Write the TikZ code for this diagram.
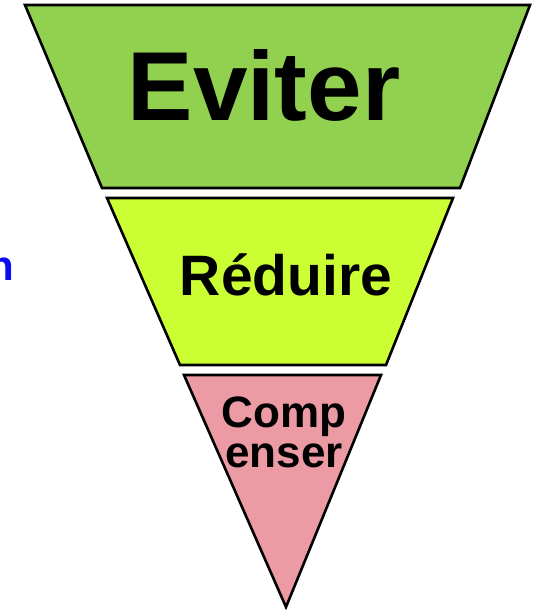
\documentclass[tikz,border=0pt]{standalone}
\usepackage{fontspec}
\setmainfont{Liberation Sans}
\usepackage{xcolor}
\definecolor{eviterGreen}{HTML}{92D050}
\definecolor{reduireLime}{HTML}{CCFF33}
\definecolor{compenserPink}{HTML}{EC9BA5}
\definecolor{sideBlue}{HTML}{0A0AF5}

\begin{document}
\begin{tikzpicture}[
				x=1pt, y=-1pt,
				level/.style={draw=black, line width=2.6pt, line join=miter},
				level text/.style={inner sep=0pt, anchor=base}]

			\useasboundingbox (0,0) rectangle (538,610);

			% the three levels of the funnel
			\draw[level, fill=eviterGreen] (25,5) -- (530,5) -- (460,188) -- (102,188) -- cycle;
			\draw[level, fill=reduireLime] (107,198) -- (453,198) -- (386,365) -- (180,365) -- cycle;
			\draw[level, fill=compenserPink] (184,375) -- (381,375) -- (286,607) -- cycle;

			\node[level text, font=\fontsize{98}{98}\selectfont\bfseries] (eviter) at (264,120) {Eviter};
			\node[level text, font=\fontsize{57}{57}\selectfont\bfseries] (reduire) at (286,295) {Réduire};
			\node[level text, align=center, font=\fontsize{44}{40}\selectfont\bfseries] (compenser) at (284,467) {Comp\\enser};

			\node[level text, anchor=base east, text=sideBlue, font=\fontsize{42}{42}\selectfont\bfseries] (side) at (14,280) {n};

		\end{tikzpicture}
\end{document}
